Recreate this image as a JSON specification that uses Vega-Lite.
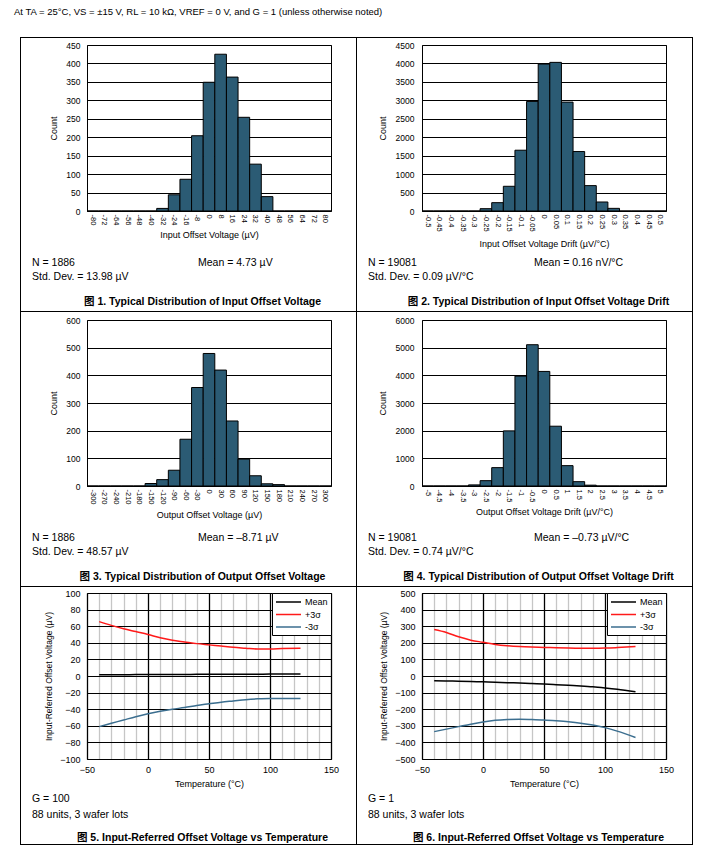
{
  "$schema": "https://vega.github.io/schema/vega-lite/v6.json",
  "padding": 0,
  "background": "white",
  "spacing": 14,
  "config": {
    "view": {"stroke": null},
    "font": "Liberation Sans",
    "axis": {"labelFont": "Liberation Sans", "titleFont": "Liberation Sans", "labelColor": "black", "titleColor": "black", "titleFontWeight": "normal", "gridColor": "black", "gridOpacity": 1, "gridWidth": 1, "domainColor": "black", "tickColor": "black"},
    "text": {"font": "Liberation Sans, Noto Sans CJK SC", "color": "black", "fontSize": 10.5},
    "legend": {"title": null, "orient": "top-right", "offset": 0, "padding": 3, "strokeColor": "black", "fillColor": "white", "cornerRadius": 0, "symbolType": "M-1,0H4", "symbolSize": 100, "symbolStrokeWidth": 1.5, "labelFont": "Liberation Sans", "labelFontSize": 9, "labelColor": "black", "labelOffset": 18, "rowPadding": 1.5}
  },
  "datasets": {
    "none": [],
    "p1": [{"bin":-80,"count":0},{"bin":-72,"count":0},{"bin":-64,"count":0},{"bin":-56,"count":0},{"bin":-48,"count":0},{"bin":-40,"count":0},{"bin":-32,"count":7},{"bin":-24,"count":44},{"bin":-16,"count":86},{"bin":-8,"count":204},{"bin":0,"count":349},{"bin":8,"count":425},{"bin":16,"count":363},{"bin":24,"count":254},{"bin":32,"count":127},{"bin":40,"count":39},{"bin":48,"count":0},{"bin":56,"count":0},{"bin":64,"count":0},{"bin":72,"count":0},{"bin":80,"count":0}],
    "p2": [{"bin":-0.5,"count":0},{"bin":-0.45,"count":0},{"bin":-0.4,"count":0},{"bin":-0.35,"count":0},{"bin":-0.3,"count":0},{"bin":-0.25,"count":63},{"bin":-0.2,"count":226},{"bin":-0.15,"count":670},{"bin":-0.1,"count":1648},{"bin":-0.05,"count":2970},{"bin":0,"count":3984},{"bin":0.05,"count":4029},{"bin":0.1,"count":2952},{"bin":0.15,"count":1612},{"bin":0.2,"count":688},{"bin":0.25,"count":244},{"bin":0.3,"count":72},{"bin":0.35,"count":0},{"bin":0.4,"count":0},{"bin":0.45,"count":0},{"bin":0.5,"count":0}],
    "p3": [{"bin":-300,"count":0},{"bin":-270,"count":0},{"bin":-240,"count":0},{"bin":-210,"count":0},{"bin":-180,"count":0},{"bin":-150,"count":9},{"bin":-120,"count":23},{"bin":-90,"count":57},{"bin":-60,"count":169},{"bin":-30,"count":356},{"bin":0,"count":479},{"bin":30,"count":419},{"bin":60,"count":235},{"bin":90,"count":97},{"bin":120,"count":37},{"bin":150,"count":8},{"bin":180,"count":5},{"bin":210,"count":0},{"bin":240,"count":0},{"bin":270,"count":0},{"bin":300,"count":0}],
    "p4": [{"bin":-5,"count":0},{"bin":-4.5,"count":0},{"bin":-4,"count":0},{"bin":-3.5,"count":0},{"bin":-3,"count":40},{"bin":-2.5,"count":193},{"bin":-2,"count":664},{"bin":-1.5,"count":1992},{"bin":-1,"count":3972},{"bin":-0.5,"count":5107},{"bin":0,"count":4141},{"bin":0.5,"count":2161},{"bin":1,"count":736},{"bin":1.5,"count":157},{"bin":2,"count":30},{"bin":2.5,"count":0},{"bin":3,"count":0},{"bin":3.5,"count":0},{"bin":4,"count":0},{"bin":4.5,"count":0},{"bin":5,"count":0}],
    "p5": [
      {"T":-40,"s":"Mean","v":1.5},{"T":-30,"s":"Mean","v":1.5},{"T":-20,"s":"Mean","v":1.6},{"T":-10,"s":"Mean","v":1.7},{"T":0,"s":"Mean","v":1.8},{"T":10,"s":"Mean","v":1.8},{"T":20,"s":"Mean","v":1.9},{"T":30,"s":"Mean","v":1.9},{"T":40,"s":"Mean","v":2},{"T":50,"s":"Mean","v":2},{"T":60,"s":"Mean","v":2.1},{"T":70,"s":"Mean","v":2.1},{"T":80,"s":"Mean","v":2.2},{"T":90,"s":"Mean","v":2.2},{"T":100,"s":"Mean","v":2.3},{"T":110,"s":"Mean","v":2.4},{"T":125,"s":"Mean","v":2.5},
      {"T":-40,"s":"+3σ","v":65.5},{"T":-30,"s":"+3σ","v":61},{"T":-20,"s":"+3σ","v":57},{"T":-10,"s":"+3σ","v":53.5},{"T":0,"s":"+3σ","v":50},{"T":10,"s":"+3σ","v":46},{"T":20,"s":"+3σ","v":43},{"T":30,"s":"+3σ","v":41},{"T":40,"s":"+3σ","v":39},{"T":50,"s":"+3σ","v":37.5},{"T":60,"s":"+3σ","v":36},{"T":70,"s":"+3σ","v":34.5},{"T":80,"s":"+3σ","v":33.5},{"T":90,"s":"+3σ","v":32.5},{"T":100,"s":"+3σ","v":32.5},{"T":110,"s":"+3σ","v":33},{"T":125,"s":"+3σ","v":33.5},
      {"T":-40,"s":"-3σ","v":-61},{"T":-30,"s":"-3σ","v":-57},{"T":-20,"s":"-3σ","v":-53},{"T":-10,"s":"-3σ","v":-49},{"T":0,"s":"-3σ","v":-45.5},{"T":10,"s":"-3σ","v":-42.5},{"T":20,"s":"-3σ","v":-40},{"T":30,"s":"-3σ","v":-38},{"T":40,"s":"-3σ","v":-35.5},{"T":50,"s":"-3σ","v":-33.5},{"T":60,"s":"-3σ","v":-31.5},{"T":70,"s":"-3σ","v":-30},{"T":80,"s":"-3σ","v":-28.5},{"T":90,"s":"-3σ","v":-27.5},{"T":100,"s":"-3σ","v":-27},{"T":110,"s":"-3σ","v":-27},{"T":125,"s":"-3σ","v":-27}
    ],
    "p6": [
      {"T":-40,"s":"Mean","v":-28},{"T":-30,"s":"Mean","v":-30},{"T":-20,"s":"Mean","v":-31},{"T":-10,"s":"Mean","v":-33},{"T":0,"s":"Mean","v":-35},{"T":10,"s":"Mean","v":-37},{"T":20,"s":"Mean","v":-40},{"T":30,"s":"Mean","v":-42},{"T":40,"s":"Mean","v":-45},{"T":50,"s":"Mean","v":-48},{"T":60,"s":"Mean","v":-52},{"T":70,"s":"Mean","v":-56},{"T":80,"s":"Mean","v":-60},{"T":90,"s":"Mean","v":-65},{"T":100,"s":"Mean","v":-72},{"T":110,"s":"Mean","v":-80},{"T":125,"s":"Mean","v":-95},
      {"T":-40,"s":"+3σ","v":280},{"T":-30,"s":"+3σ","v":262},{"T":-20,"s":"+3σ","v":236},{"T":-10,"s":"+3σ","v":216},{"T":0,"s":"+3σ","v":203},{"T":10,"s":"+3σ","v":190},{"T":20,"s":"+3σ","v":182},{"T":30,"s":"+3σ","v":177},{"T":40,"s":"+3σ","v":174},{"T":50,"s":"+3σ","v":172},{"T":60,"s":"+3σ","v":170},{"T":70,"s":"+3σ","v":168},{"T":80,"s":"+3σ","v":167},{"T":90,"s":"+3σ","v":167},{"T":100,"s":"+3σ","v":168},{"T":110,"s":"+3σ","v":171},{"T":125,"s":"+3σ","v":177},
      {"T":-40,"s":"-3σ","v":-335},{"T":-30,"s":"-3σ","v":-320},{"T":-20,"s":"-3σ","v":-305},{"T":-10,"s":"-3σ","v":-290},{"T":0,"s":"-3σ","v":-277},{"T":10,"s":"-3σ","v":-267},{"T":20,"s":"-3σ","v":-262},{"T":30,"s":"-3σ","v":-260},{"T":40,"s":"-3σ","v":-262},{"T":50,"s":"-3σ","v":-265},{"T":60,"s":"-3σ","v":-270},{"T":70,"s":"-3σ","v":-276},{"T":80,"s":"-3σ","v":-284},{"T":90,"s":"-3σ","v":-295},{"T":100,"s":"-3σ","v":-311},{"T":110,"s":"-3σ","v":-332},{"T":125,"s":"-3σ","v":-370}
    ]
  },
  "vconcat": [
    {"width": 28, "height": 23, "data": {"values": [{"t": "At TA = 25°C, VS = ±15 V, RL = 10 kΩ, VREF = 0 V, and G = 1 (unless otherwise noted)"}]}, "mark": {"type": "text", "align": "left", "baseline": "middle", "font": "Liberation Sans", "fontSize": 9.5}, "encoding": {"text": {"field": "t"}}},
    {"spacing": 0, "hconcat": [
      {"width": 20, "height": 1, "data": {"name": "none"}, "mark": "text"},
      {"width": 1, "height": 808, "data": {"name": "none"}, "mark": "text", "view": {"fill": "black", "stroke": null}},
      {"spacing": 0, "vconcat": [
        {"width": 335, "height": 1, "data": {"name": "none"}, "mark": "text", "view": {"fill": "black", "stroke": null}},
        {"width": 1, "height": 2, "data": {"name": "none"}, "mark": "text"},
        {"spacing": 0, "bounds": "flush", "hconcat": [
          {"width": 66, "height": 205, "data": {"name": "none"}, "mark": "text"},
          {"width": 244, "height": 166, "data": {"name": "p1"}, "view": {"stroke": "black"},
           "mark": {"type": "bar", "color": "#2b5b74", "stroke": "black", "strokeWidth": 1},
           "encoding": {
             "x": {"field": "bin", "type": "ordinal", "sort": null, "scale": {"paddingInner": 0, "paddingOuter": 0}, "axis": {"title": "Input Offset Voltage (µV)", "labelAngle": 90, "labelFontSize": 7.5, "labelPadding": 3, "ticks": false, "domain": false, "labelOverlap": false, "titleFontSize": 9, "titlePadding": 6}},
             "y": {"field": "count", "type": "quantitative", "scale": {"domain": [0, 450], "nice": false}, "axis": {"title": "Count", "format": "d", "values": [0,50,100,150,200,250,300,350,400,450], "grid": true, "ticks": false, "domain": false, "labelFontSize": 8.5, "labelPadding": 7, "titleFontSize": 9, "titlePadding": 7}}
           }},
          {"width": 25, "height": 205, "data": {"name": "none"}, "mark": "text"}
        ]},
        {"spacing": 0, "bounds": "flush", "hconcat": [
          {"width": 22, "height": 25, "data": {"values": [{"t": "N = 1886\nStd. Dev. = 13.98 µV"}]}, "mark": {"type": "text", "align": "left", "baseline": "middle", "lineBreak": "\n", "lineHeight": 14}, "encoding": {"text": {"field": "t"}}},
          {"width": 310, "height": 25, "data": {"values": [{"t": "Mean = 4.73 µV"}]}, "mark": {"type": "text", "align": "left", "baseline": "middle"}, "encoding": {"text": {"field": "t"}}}
        ]},
        {"width": 1, "height": 10, "data": {"name": "none"}, "mark": "text"},
        {"spacing": 0, "bounds": "flush", "hconcat": [
          {"width": 28, "height": 19, "data": {"name": "none"}, "mark": "text"},
          {"width": 307, "height": 19, "data": {"values": [{"t": "图 1. Typical Distribution of Input Offset Voltage"}]}, "mark": {"type": "text", "align": "center", "baseline": "middle", "fontWeight": "bold"}, "encoding": {"text": {"field": "t"}}}
        ]},
        {"width": 335, "height": 1, "data": {"name": "none"}, "mark": "text", "view": {"fill": "black", "stroke": null}},
        {"width": 1, "height": 3, "data": {"name": "none"}, "mark": "text"},
        {"spacing": 0, "bounds": "flush", "hconcat": [
          {"width": 66, "height": 205, "data": {"name": "none"}, "mark": "text"},
          {"width": 244, "height": 166, "data": {"name": "p3"}, "view": {"stroke": "black"},
           "mark": {"type": "bar", "color": "#2b5b74", "stroke": "black", "strokeWidth": 1},
           "encoding": {
             "x": {"field": "bin", "type": "ordinal", "sort": null, "scale": {"paddingInner": 0, "paddingOuter": 0}, "axis": {"title": "Output Offset Voltage (µV)", "labelAngle": 90, "labelFontSize": 7.5, "labelPadding": 3, "ticks": false, "domain": false, "labelOverlap": false, "titleFontSize": 9, "titlePadding": 6}},
             "y": {"field": "count", "type": "quantitative", "scale": {"domain": [0, 600], "nice": false}, "axis": {"title": "Count", "format": "d", "values": [0,100,200,300,400,500,600], "grid": true, "ticks": false, "domain": false, "labelFontSize": 8.5, "labelPadding": 7, "titleFontSize": 9, "titlePadding": 7}}
           }},
          {"width": 25, "height": 205, "data": {"name": "none"}, "mark": "text"}
        ]},
        {"spacing": 0, "bounds": "flush", "hconcat": [
          {"width": 22, "height": 25, "data": {"values": [{"t": "N = 1886\nStd. Dev. = 48.57 µV"}]}, "mark": {"type": "text", "align": "left", "baseline": "middle", "lineBreak": "\n", "lineHeight": 14}, "encoding": {"text": {"field": "t"}}},
          {"width": 310, "height": 25, "data": {"values": [{"t": "Mean = –8.71 µV"}]}, "mark": {"type": "text", "align": "left", "baseline": "middle"}, "encoding": {"text": {"field": "t"}}}
        ]},
        {"width": 1, "height": 10, "data": {"name": "none"}, "mark": "text"},
        {"spacing": 0, "bounds": "flush", "hconcat": [
          {"width": 28, "height": 19, "data": {"name": "none"}, "mark": "text"},
          {"width": 307, "height": 19, "data": {"values": [{"t": "图 3. Typical Distribution of Output Offset Voltage"}]}, "mark": {"type": "text", "align": "center", "baseline": "middle", "fontWeight": "bold"}, "encoding": {"text": {"field": "t"}}}
        ]},
        {"width": 335, "height": 1, "data": {"name": "none"}, "mark": "text", "view": {"fill": "black", "stroke": null}},
        {"width": 1, "height": 1, "data": {"name": "none"}, "mark": "text"},
        {"spacing": 0, "bounds": "flush", "resolve": {"legend": {"color": "independent"}}, "hconcat": [
          {"width": 66, "height": 197, "data": {"name": "none"}, "mark": "text"},
          {"width": 244, "height": 166, "data": {"name": "p5"}, "view": {"stroke": "black"},
           "mark": {"type": "line", "interpolate": "monotone", "strokeWidth": 1.5},
           "encoding": {
             "x": {"field": "T", "type": "quantitative", "scale": {"domain": [-50, 150], "nice": false}, "axis": {"title": "Temperature (°C)", "values": [-50,-40,-30,-20,-10,0,10,20,30,40,50,60,70,80,90,100,110,120,130,140,150], "format": "d", "labelExpr": "datum.value % 50 === 0 ? datum.label : ''", "labelFlush": false, "labelOverlap": false, "grid": true, "gridColor": {"condition": {"test": "datum.value % 50 === 0", "value": "black"}, "value": "#c6c6c6"}, "gridWidth": 1.3, "ticks": false, "domain": false, "labelFontSize": 9, "labelPadding": 6, "titleFontSize": 9, "titlePadding": 5}},
             "y": {"field": "v", "type": "quantitative", "scale": {"domain": [-100, 100], "nice": false}, "axis": {"title": "Input-Referred Offset Voltage (µV)", "format": "d", "values": [-100,-80,-60,-40,-20,0,20,40,60,80,100], "grid": true, "ticks": false, "domain": false, "labelFontSize": 9, "labelPadding": 7, "titleFontSize": 8.5, "titlePadding": 6}},
             "color": {"field": "s", "type": "nominal", "scale": {"domain": ["Mean", "+3σ", "-3σ"], "range": ["black", "#ff1a1a", "#3b6e8f"]}, "legend": {"title": null}}
           }},
          {"width": 25, "height": 197, "data": {"name": "none"}, "mark": "text"}
        ]},
        {"width": 22, "height": 17, "data": {"values": [{"t": "G = 100\n88 units, 3 wafer lots"}]}, "mark": {"type": "text", "align": "left", "baseline": "middle", "lineBreak": "\n", "lineHeight": 16.7}, "encoding": {"text": {"field": "t"}}},
        {"width": 1, "height": 12, "data": {"name": "none"}, "mark": "text"},
        {"spacing": 0, "bounds": "flush", "hconcat": [
          {"width": 28, "height": 10, "data": {"name": "none"}, "mark": "text"},
          {"width": 307, "height": 10, "data": {"values": [{"t": "图 5. Input-Referred Offset Voltage vs Temperature"}]}, "mark": {"type": "text", "align": "center", "baseline": "middle", "fontWeight": "bold"}, "encoding": {"text": {"field": "t"}}}
        ]},
        {"width": 335, "height": 1, "data": {"name": "none"}, "mark": "text", "view": {"fill": "black", "stroke": null}}
      ]},
      {"width": 1, "height": 808, "data": {"name": "none"}, "mark": "text", "view": {"fill": "black", "stroke": null}},
      {"spacing": 0, "vconcat": [
        {"width": 335, "height": 1, "data": {"name": "none"}, "mark": "text", "view": {"fill": "black", "stroke": null}},
        {"width": 1, "height": 2, "data": {"name": "none"}, "mark": "text"},
        {"spacing": 0, "bounds": "flush", "hconcat": [
          {"width": 65, "height": 205, "data": {"name": "none"}, "mark": "text"},
          {"width": 244, "height": 166, "data": {"name": "p2"}, "view": {"stroke": "black"},
           "mark": {"type": "bar", "color": "#2b5b74", "stroke": "black", "strokeWidth": 1},
           "encoding": {
             "x": {"field": "bin", "type": "ordinal", "sort": null, "scale": {"paddingInner": 0, "paddingOuter": 0}, "axis": {"title": "Input Offset Voltage Drift (µV/°C)", "labelAngle": 90, "labelFontSize": 7.5, "labelPadding": 3, "ticks": false, "domain": false, "labelOverlap": false, "titleFontSize": 9, "titlePadding": 8}},
             "y": {"field": "count", "type": "quantitative", "scale": {"domain": [0, 4500], "nice": false}, "axis": {"title": "Count", "format": "d", "values": [0,500,1000,1500,2000,2500,3000,3500,4000,4500], "grid": true, "ticks": false, "domain": false, "labelFontSize": 8.5, "labelPadding": 8, "titleFontSize": 9, "titlePadding": 8}}
           }},
          {"width": 26, "height": 205, "data": {"name": "none"}, "mark": "text"}
        ]},
        {"spacing": 0, "bounds": "flush", "hconcat": [
          {"width": 22, "height": 25, "data": {"values": [{"t": "N = 19081\nStd. Dev. = 0.09 µV/°C"}]}, "mark": {"type": "text", "align": "left", "baseline": "middle", "lineBreak": "\n", "lineHeight": 14}, "encoding": {"text": {"field": "t"}}},
          {"width": 310, "height": 25, "data": {"values": [{"t": "Mean = 0.16 nV/°C"}]}, "mark": {"type": "text", "align": "left", "baseline": "middle"}, "encoding": {"text": {"field": "t"}}}
        ]},
        {"width": 1, "height": 10, "data": {"name": "none"}, "mark": "text"},
        {"spacing": 0, "bounds": "flush", "hconcat": [
          {"width": 28, "height": 19, "data": {"name": "none"}, "mark": "text"},
          {"width": 307, "height": 19, "data": {"values": [{"t": "图 2. Typical Distribution of Input Offset Voltage Drift"}]}, "mark": {"type": "text", "align": "center", "baseline": "middle", "fontWeight": "bold"}, "encoding": {"text": {"field": "t"}}}
        ]},
        {"width": 335, "height": 1, "data": {"name": "none"}, "mark": "text", "view": {"fill": "black", "stroke": null}},
        {"width": 1, "height": 3, "data": {"name": "none"}, "mark": "text"},
        {"spacing": 0, "bounds": "flush", "hconcat": [
          {"width": 65, "height": 205, "data": {"name": "none"}, "mark": "text"},
          {"width": 244, "height": 166, "data": {"name": "p4"}, "view": {"stroke": "black"},
           "mark": {"type": "bar", "color": "#2b5b74", "stroke": "black", "strokeWidth": 1},
           "encoding": {
             "x": {"field": "bin", "type": "ordinal", "sort": null, "scale": {"paddingInner": 0, "paddingOuter": 0}, "axis": {"title": "Output Offset Voltage Drift (µV/°C)", "labelAngle": 90, "labelFontSize": 7.5, "labelPadding": 3, "ticks": false, "domain": false, "labelOverlap": false, "titleFontSize": 9, "titlePadding": 6}},
             "y": {"field": "count", "type": "quantitative", "scale": {"domain": [0, 6000], "nice": false}, "axis": {"title": "Count", "format": "d", "values": [0,1000,2000,3000,4000,5000,6000], "grid": true, "ticks": false, "domain": false, "labelFontSize": 8.5, "labelPadding": 8, "titleFontSize": 9, "titlePadding": 8}}
           }},
          {"width": 26, "height": 205, "data": {"name": "none"}, "mark": "text"}
        ]},
        {"spacing": 0, "bounds": "flush", "hconcat": [
          {"width": 22, "height": 25, "data": {"values": [{"t": "N = 19081\nStd. Dev. = 0.74 µV/°C"}]}, "mark": {"type": "text", "align": "left", "baseline": "middle", "lineBreak": "\n", "lineHeight": 14}, "encoding": {"text": {"field": "t"}}},
          {"width": 310, "height": 25, "data": {"values": [{"t": "Mean = –0.73 µV/°C"}]}, "mark": {"type": "text", "align": "left", "baseline": "middle"}, "encoding": {"text": {"field": "t"}}}
        ]},
        {"width": 1, "height": 10, "data": {"name": "none"}, "mark": "text"},
        {"spacing": 0, "bounds": "flush", "hconcat": [
          {"width": 28, "height": 19, "data": {"name": "none"}, "mark": "text"},
          {"width": 307, "height": 19, "data": {"values": [{"t": "图 4. Typical Distribution of Output Offset Voltage Drift"}]}, "mark": {"type": "text", "align": "center", "baseline": "middle", "fontWeight": "bold"}, "encoding": {"text": {"field": "t"}}}
        ]},
        {"width": 335, "height": 1, "data": {"name": "none"}, "mark": "text", "view": {"fill": "black", "stroke": null}},
        {"width": 1, "height": 1, "data": {"name": "none"}, "mark": "text"},
        {"spacing": 0, "bounds": "flush", "resolve": {"legend": {"color": "independent"}}, "hconcat": [
          {"width": 65, "height": 197, "data": {"name": "none"}, "mark": "text"},
          {"width": 244, "height": 166, "data": {"name": "p6"}, "view": {"stroke": "black"},
           "mark": {"type": "line", "interpolate": "monotone", "strokeWidth": 1.5},
           "encoding": {
             "x": {"field": "T", "type": "quantitative", "scale": {"domain": [-50, 150], "nice": false}, "axis": {"title": "Temperature (°C)", "values": [-50,-40,-30,-20,-10,0,10,20,30,40,50,60,70,80,90,100,110,120,130,140,150], "format": "d", "labelExpr": "datum.value % 50 === 0 ? datum.label : ''", "labelFlush": false, "labelOverlap": false, "grid": true, "gridColor": {"condition": {"test": "datum.value % 50 === 0", "value": "black"}, "value": "#c6c6c6"}, "gridWidth": 1.3, "ticks": false, "domain": false, "labelFontSize": 9, "labelPadding": 6, "titleFontSize": 9, "titlePadding": 5}},
             "y": {"field": "v", "type": "quantitative", "scale": {"domain": [-500, 500], "nice": false}, "axis": {"title": "Input-Referred Offset Voltage (µV)", "format": "d", "values": [-500,-400,-300,-200,-100,0,100,200,300,400,500], "grid": true, "ticks": false, "domain": false, "labelFontSize": 9, "labelPadding": 7, "titleFontSize": 8.5, "titlePadding": 6}},
             "color": {"field": "s", "type": "nominal", "scale": {"domain": ["Mean", "+3σ", "-3σ"], "range": ["black", "#ff1a1a", "#3b6e8f"]}, "legend": {"title": null}}
           }},
          {"width": 26, "height": 197, "data": {"name": "none"}, "mark": "text"}
        ]},
        {"width": 22, "height": 17, "data": {"values": [{"t": "G = 1\n88 units, 3 wafer lots"}]}, "mark": {"type": "text", "align": "left", "baseline": "middle", "lineBreak": "\n", "lineHeight": 16.7}, "encoding": {"text": {"field": "t"}}},
        {"width": 1, "height": 12, "data": {"name": "none"}, "mark": "text"},
        {"spacing": 0, "bounds": "flush", "hconcat": [
          {"width": 28, "height": 10, "data": {"name": "none"}, "mark": "text"},
          {"width": 307, "height": 10, "data": {"values": [{"t": "图 6. Input-Referred Offset Voltage vs Temperature"}]}, "mark": {"type": "text", "align": "center", "baseline": "middle", "fontWeight": "bold"}, "encoding": {"text": {"field": "t"}}}
        ]},
        {"width": 335, "height": 1, "data": {"name": "none"}, "mark": "text", "view": {"fill": "black", "stroke": null}}
      ]},
      {"width": 1, "height": 808, "data": {"name": "none"}, "mark": "text", "view": {"fill": "black", "stroke": null}}
    ]}
  ]
}
